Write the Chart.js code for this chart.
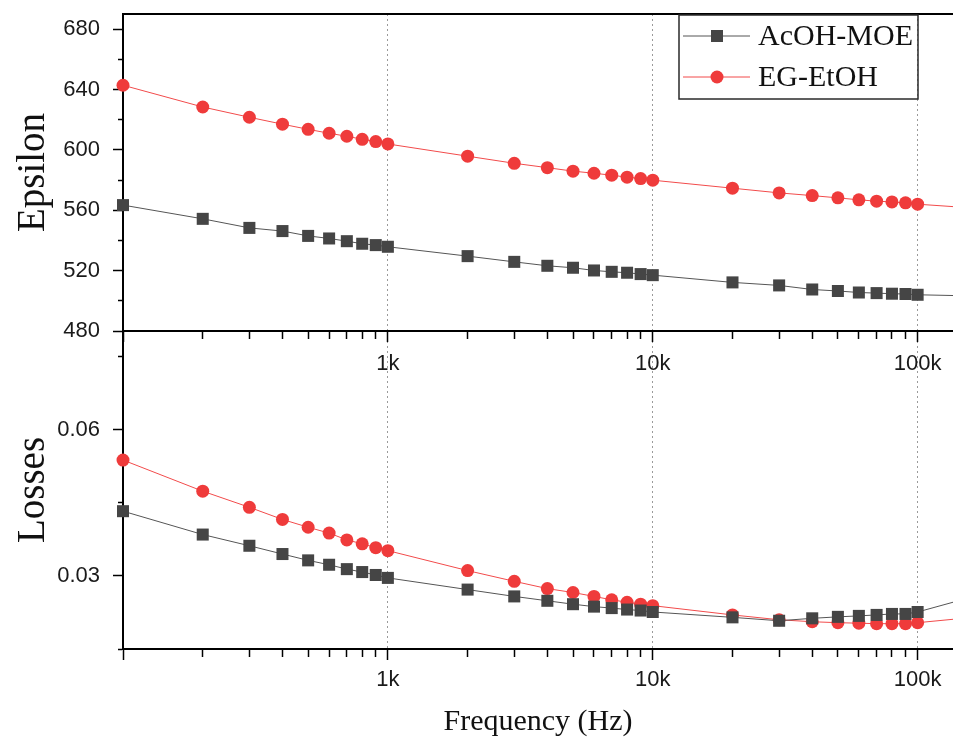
<!DOCTYPE html>
<html>
<head>
<meta charset="utf-8">
<script src="https://cdn.jsdelivr.net/npm/chart.js"></script>
<style>
html, body { margin: 0; padding: 0; background: #fff; }
#wrap { position: relative; width: 953px; height: 751px; overflow: hidden; }
#topBox { position: absolute; left: 0; top: 0; width: 953px; height: 400px; z-index: 2; }
#botBox { position: absolute; left: 0; top: 320px; width: 953px; height: 431px; z-index: 1; }
</style>
</head>
<body>
<div id="wrap">
  <div id="botBox"><canvas id="lossChart"></canvas></div>
  <div id="topBox"><canvas id="epsChart"></canvas></div>
</div>
<script>
// frequencies in Hz; the last entry is where the curves run out of the frame (no marker)
var freq = [100, 200, 300, 400, 500, 600, 700, 800, 900, 1000,
            2000, 3000, 4000, 5000, 6000, 7000, 8000, 9000, 10000,
            20000, 30000, 40000, 50000, 60000, 70000, 80000, 90000, 100000, 136000];
var markerCount = 28;

var seriesNames = ['AcOH-MOE', 'EG-EtOH'];

var epsAcoh = [563.4, 554.3, 548.3, 546.2, 543.0, 541.3, 539.5, 537.8, 536.9, 535.8,
               529.6, 525.8, 523.2, 521.9, 520.1, 519.2, 518.6, 517.7, 517.0,
               512.2, 510.2, 507.5, 506.5, 505.5, 505.1, 504.7, 504.5, 504.0, 503.5];
var epsEg = [642.8, 628.4, 621.6, 617.0, 613.6, 611.0, 609.0, 607.0, 605.5, 603.9,
             595.8, 591.1, 588.2, 585.9, 584.5, 583.2, 581.9, 581.0, 579.9,
             574.6, 571.5, 569.7, 568.2, 566.9, 566.0, 565.5, 564.9, 564.0, 562.4];

var lossAcoh = [0.0433, 0.0385, 0.0362, 0.0345, 0.0332, 0.0323, 0.0314, 0.0308, 0.0302, 0.0296,
                0.0272, 0.0258, 0.0249, 0.0242, 0.0237, 0.0234, 0.0231, 0.0229, 0.0226,
                0.0215, 0.0208, 0.0213, 0.0216, 0.0218, 0.0220, 0.0222, 0.0222, 0.0226, 0.0246];
var lossEg = [0.0538, 0.0474, 0.0441, 0.0416, 0.0400, 0.0388, 0.0374, 0.0366, 0.0358, 0.0352,
              0.0311, 0.0289, 0.0274, 0.0266, 0.0258, 0.0251, 0.0246, 0.0242, 0.0239,
              0.0220, 0.0210, 0.0206, 0.0204, 0.0203, 0.0202, 0.0202, 0.0202, 0.0204, 0.0211];

var freqLabels = { 1000: '1k', 10000: '10k', 100000: '100k' };

var grayMark = '#454545', grayLine = '#555555';
var redMark = '#ef3b3b', redLine = '#f24b4b';
var tickFont = { family: '"Liberation Sans", Arial, sans-serif', size: 22 };
var serif = '"Liberation Serif", "Times New Roman", serif';

function nearMultiple(v, step) {
    var r = v / step;
    return Math.abs(r - Math.round(r)) < 1e-6;
}

function isDecade(v) {
    var e = Math.log10(v);
    return Math.abs(e - Math.round(e)) < 1e-9;
}

function isLogTick(v) {
    var m = v / Math.pow(10, Math.floor(Math.log10(v) + 1e-9));
    return Math.abs(m - Math.round(m)) < 1e-6;
}

function pts(arr) {
    return freq.map(function(f, i) { return { x: f, y: arr[i] }; });
}

function makeDatasets(a, b) {
    var radius = function(r) {
        return function(c) { return c.dataIndex < markerCount ? r : 0; };
    };
    return [{
        label: seriesNames[0],
        data: pts(a),
        borderColor: grayLine,
        borderWidth: 1,
        backgroundColor: grayMark,
        pointStyle: 'rect',
        pointRadius: radius(8.5),
        pointBorderWidth: 0,
        pointBackgroundColor: grayMark,
        tension: 0,
        clip: false
    }, {
        label: seriesNames[1],
        data: pts(b),
        borderColor: redLine,
        borderWidth: 1,
        backgroundColor: redMark,
        pointStyle: 'circle',
        pointRadius: radius(6.5),
        pointBorderWidth: 0,
        pointBackgroundColor: redMark,
        tension: 0,
        clip: false
    }];
}

function xAxis(height, labelPad, withTitle) {
    return {
        type: 'logarithmic',
        min: 100,
        max: 136000,
        afterFit: function(s) {
            s.height = height;
            s.paddingLeft = 0;
            s.paddingRight = 0;
        },
        border: { display: true, color: '#000', width: 2, dash: [2, 3] },
        grid: {
            color: function(c) {
                var v = c.tick && c.tick.value;
                return v > 100 && isDecade(v) ? '#9a9a9a' : 'rgba(0,0,0,0)';
            },
            borderDash: [2, 3],
            lineWidth: 1,
            tickLength: 11,
            tickWidth: 1.5,
            tickColor: function(c) {
                var v = c.tick && c.tick.value;
                return v && isLogTick(v) ? '#000' : 'rgba(0,0,0,0)';
            },
            tickBorderDash: function(c) {
                var v = c.tick && c.tick.value;
                return v && isDecade(v) ? [] : [7, 40];
            }
        },
        ticks: {
            autoSkip: false,
            includeBounds: false,
            maxRotation: 0,
            padding: labelPad,
            color: '#1a1a1a',
            font: tickFont,
            callback: function(v) { return freqLabels[v] || ''; }
        },
        title: {
            display: withTitle,
            text: 'Frequency (Hz)',
            color: '#111',
            font: { family: serif, size: 30, lineHeight: 1 },
            padding: { top: 0, bottom: 14 }
        }
    };
}

function yAxis(min, max, step, labelStep, title, fmt) {
    return {
        min: min,
        max: max,
        afterFit: function(s) {
            s.width = 123;
            s.paddingTop = 0;
            s.paddingBottom = 0;
        },
        border: { display: true, color: '#000', width: 2 },
        grid: {
            drawOnChartArea: false,
            tickLength: 10,
            tickWidth: 1.5,
            tickColor: function(c) {
                var v = c.tick && c.tick.value;
                return nearMultiple(v, step) ? '#000' : 'rgba(0,0,0,0)';
            },
            tickBorderDash: function(c) {
                var v = c.tick && c.tick.value;
                return nearMultiple(v, labelStep) ? [] : [0, 5, 5, 40];
            }
        },
        ticks: {
            stepSize: step,
            includeBounds: false,
            padding: 13,
            color: '#1a1a1a',
            font: tickFont,
            callback: function(v) { return nearMultiple(v, labelStep) ? fmt(v) : ''; }
        },
        title: {
            display: true,
            text: title,
            color: '#111',
            font: { family: serif, size: 39, lineHeight: 1 },
            padding: { top: 14, bottom: 0 }
        }
    };
}

// top edge of the upper frame (right edge is cut off in the original)
var topFrame = {
    id: 'topFrame',
    afterDraw: function(chart) {
        var a = chart.chartArea, ctx = chart.ctx;
        ctx.save();
        ctx.strokeStyle = '#000';
        ctx.lineWidth = 2;
        ctx.beginPath();
        ctx.moveTo(a.left - 1, a.top);
        ctx.lineTo(a.right, a.top);
        ctx.stroke();
        ctx.restore();
    }
};

var legendBox = {
    id: 'legendBox',
    afterDraw: function(chart) {
        var a = chart.chartArea, ctx = chart.ctx;
        var left = a.right - 274, top = a.top + 1, w = 239, h = 84;
        ctx.save();
        ctx.strokeStyle = '#2a2a2a';
        ctx.lineWidth = 1.5;
        ctx.strokeRect(left, top, w, h);
        chart.data.datasets.forEach(function(ds, i) {
            var y = top + 21 + i * 41;
            ctx.strokeStyle = ds.borderColor;
            ctx.lineWidth = 1;
            ctx.beginPath();
            ctx.moveTo(left + 4, y);
            ctx.lineTo(left + 71, y);
            ctx.stroke();
            ctx.fillStyle = ds.pointBackgroundColor;
            if (ds.pointStyle === 'rect') {
                ctx.fillRect(left + 38 - 6, y - 6, 12, 12);
            } else {
                ctx.beginPath();
                ctx.arc(left + 38, y, 6.5, 0, Math.PI * 2);
                ctx.fill();
            }
            ctx.fillStyle = '#111';
            ctx.font = '30px ' + serif;
            ctx.textBaseline = 'middle';
            ctx.fillText(ds.label, left + 79, y + 1);
        });
        ctx.restore();
    }
};

new Chart(document.getElementById('epsChart'), {
    type: 'line',
    data: { datasets: makeDatasets(epsAcoh, epsEg) },
    options: {
        responsive: true,
        maintainAspectRatio: false,
        animation: false,
        layout: { autoPadding: false, padding: { top: 14, left: 0, right: 0, bottom: 0 } },
        plugins: { legend: { display: false }, tooltip: { enabled: false } },
        scales: {
            x: xAxis(69, 9, false),
            y: yAxis(480, 690, 20, 40, 'Epsilon', function(v) { return String(v); })
        }
    },
    plugins: [topFrame, legendBox]
});

new Chart(document.getElementById('lossChart'), {
    type: 'line',
    data: { datasets: makeDatasets(lossAcoh, lossEg) },
    options: {
        responsive: true,
        maintainAspectRatio: false,
        animation: false,
        layout: { autoPadding: false, padding: { top: 11, left: 0, right: 0, bottom: 0 } },
        plugins: { legend: { display: false }, tooltip: { enabled: false } },
        scales: {
            x: xAxis(102, 7, true),
            y: yAxis(0.015, 0.0803, 0.015, 0.03, 'Losses', function(v) { return v.toFixed(2); })
        }
    }
});
</script>
</body>
</html>
